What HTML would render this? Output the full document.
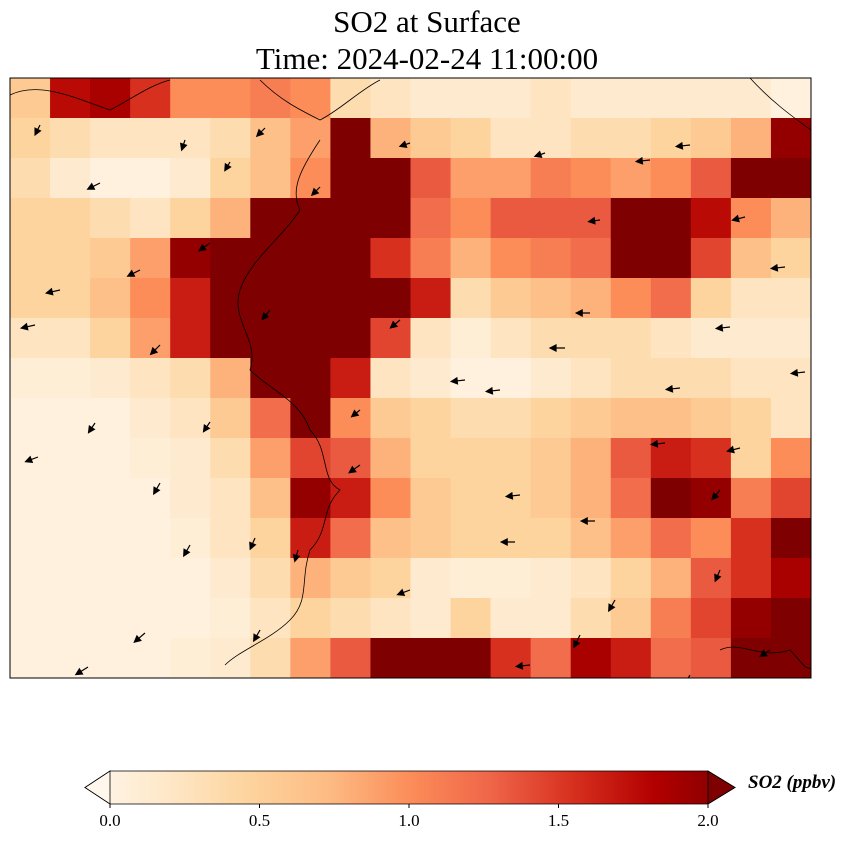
<!DOCTYPE html>
<html><head><meta charset="utf-8">
<style>
body{margin:0;background:#fff;width:854px;height:839px;overflow:hidden;font-family:"Liberation Serif",serif}
</style></head>
<body>
<svg id="fig" width="854" height="839" xmlns="http://www.w3.org/2000/svg">
<text x="427" y="32" font-size="31" text-anchor="middle" font-family="Liberation Serif,serif">SO2 at Surface</text>
<text x="427" y="69" font-size="31" text-anchor="middle" font-family="Liberation Serif,serif">Time: 2024-02-24 11:00:00</text>
<defs>
<clipPath id="mapclip"><rect x="10" y="78" width="801" height="600"/></clipPath>
<linearGradient id="cgrad" x1="0" x2="1" y1="0" y2="0">
<stop offset="0" stop-color="#fff7ec"/><stop offset="0.125" stop-color="#fee8c8"/><stop offset="0.25" stop-color="#fdd49e"/><stop offset="0.375" stop-color="#fdbb84"/><stop offset="0.5" stop-color="#fc8d59"/><stop offset="0.625" stop-color="#ef6548"/><stop offset="0.75" stop-color="#d7301f"/><stop offset="0.875" stop-color="#b30000"/><stop offset="1" stop-color="#7f0000"/>
</linearGradient>
</defs>
<g id="cells" clip-path="url(#mapclip)"></g>
<g id="coast" clip-path="url(#mapclip)" fill="none" stroke="#000" stroke-width="0.8">
<path d="M320,140 C300,170 290,190 300,210 C280,240 250,260 240,290 C230,320 260,340 250,370 C270,390 300,400 310,430 C330,450 320,480 340,490 C320,510 330,530 310,550 C300,580 310,600 290,620 C270,640 240,650 225,665"/>
<path d="M10,95 C40,80 80,100 110,110 C130,100 150,85 170,80"/>
<path d="M260,80 C280,100 300,110 320,120 C340,110 360,90 380,80"/>
<path d="M750,78 C770,100 790,115 811,130"/>
<path d="M720,650 C740,640 760,660 790,650 C800,660 805,670 811,668"/>
</g>
<g id="arrows" clip-path="url(#mapclip)"></g>
<rect x="10" y="78" width="801" height="600" fill="none" stroke="#000" stroke-width="1"/>
<g>
<polygon points="110,771 708,771 735,787.5 708,804 110,804 85,787.5" fill="url(#cgrad)" stroke="#000" stroke-width="0.8"/>
<polygon points="85,787.5 110,771 110,804" fill="#fff7ec" stroke="#000" stroke-width="0.8"/>
<polygon points="735,787.5 708,771 708,804" fill="#7f0000" stroke="#000" stroke-width="0.8"/>
</g>
<g id="cticks" font-size="17" text-anchor="middle"></g>
<text x="748" y="788" font-size="19" font-weight="bold" font-style="italic">SO2 (ppbv)</text>
</svg>
<script>
const gridCols = 20;
const gridRows = 15;
const so2Values = [
[0.6,1.7,1.8,1.5,1.0,1.0,1.1,1.0,0.4,0.3,0.2,0.2,0.2,0.3,0.2,0.2,0.2,0.2,0.2,0.1],
[0.5,0.4,0.3,0.3,0.3,0.4,0.7,0.9,2,0.8,0.6,0.5,0.3,0.3,0.4,0.4,0.5,0.6,0.8,1.9],
[0.4,0.2,0.1,0.1,0.2,0.5,0.7,1.0,2,2,1.3,0.9,0.9,1.1,1.0,0.9,1.0,1.3,2,2],
[0.5,0.5,0.4,0.3,0.5,0.8,2,2,2,2,1.2,1.0,1.3,1.3,1.3,2,2,1.7,1.0,0.8],
[0.5,0.5,0.6,0.9,1.9,2,2,2,2,1.5,1.1,0.8,1.0,1.1,1.2,2,2,1.4,0.7,0.5],
[0.5,0.5,0.7,1.0,1.6,2,2,2,2,2,1.6,0.4,0.6,0.7,0.8,1.0,1.2,0.5,0.3,0.3],
[0.3,0.3,0.5,0.9,1.6,2,2,2,2,1.4,0.3,0.15,0.3,0.4,0.4,0.4,0.3,0.2,0.2,0.2],
[0.15,0.15,0.2,0.3,0.4,0.8,2,2,1.6,0.3,0.2,0.1,0.1,0.2,0.3,0.4,0.4,0.4,0.3,0.3],
[0.1,0.1,0.1,0.2,0.3,0.6,1.2,2,1.0,0.6,0.5,0.4,0.4,0.5,0.6,0.7,0.7,0.6,0.5,0.3],
[0.1,0.1,0.1,0.15,0.2,0.4,0.9,1.4,1.3,0.8,0.5,0.5,0.5,0.6,0.8,1.3,1.6,1.5,0.5,1.0],
[0.1,0.1,0.1,0.1,0.2,0.3,0.7,1.9,1.6,1.0,0.6,0.5,0.5,0.6,0.8,1.2,2,1.9,1.1,1.4],
[0.1,0.1,0.1,0.1,0.15,0.3,0.5,1.6,1.2,0.7,0.6,0.5,0.5,0.5,0.7,0.9,1.2,1.0,1.5,2],
[0.1,0.1,0.1,0.1,0.1,0.2,0.4,0.8,0.6,0.5,0.2,0.15,0.15,0.2,0.3,0.5,0.8,1.3,1.5,1.8],
[0.1,0.1,0.1,0.1,0.1,0.15,0.3,0.5,0.4,0.3,0.2,0.5,0.2,0.2,0.4,0.6,1.1,1.4,1.9,2],
[0.1,0.1,0.1,0.1,0.15,0.2,0.4,0.9,1.3,2,2,2,1.5,1.2,1.8,1.6,1.2,1.3,2,2]
];
const colorbarTicks = [0.0, 0.5, 1.0, 1.5, 2.0];
const windX = [40,100,185,230,265,320,410,545,600,650,690,745,785,140,210,60,35,160,270,400,465,565,680,730,805,95,210,360,500,590,665,740,38,160,360,520,595,720,190,255,298,515,615,720,145,260,410,580,690,88,530,770];
const windY = [125,183,140,162,128,187,143,153,220,160,145,217,267,270,243,290,325,345,310,320,380,348,388,327,372,423,422,410,390,313,443,448,457,483,465,495,521,490,545,538,550,542,600,570,633,630,590,635,675,667,665,650];
const windU = [-0.3,-0.8,-0.2,-0.3,-0.5,-0.5,-0.6,-0.6,-0.7,-0.9,-0.9,-0.8,-0.9,-0.8,-0.7,-0.9,-0.9,-0.6,-0.5,-0.6,-0.9,-1,-0.9,-0.9,-0.9,-0.4,-0.4,-0.5,-0.9,-0.9,-0.9,-0.8,-0.8,-0.4,-0.7,-0.9,-0.9,-0.5,-0.4,-0.3,-0.2,-0.9,-0.4,-0.3,-0.7,-0.4,-0.8,-0.4,-0.4,-0.8,-0.9,-0.6];
const windV = [0.6,0.4,0.6,0.5,0.5,0.5,0.2,0.2,0.1,0.1,0.1,0.2,0.1,0.4,0.5,0.2,0.2,0.6,0.6,0.5,0.1,0,0.1,0.1,0.1,0.6,0.6,0.4,0.1,0,0.1,0.2,0.3,0.7,0.5,0.1,0,0.6,0.7,0.7,0.7,0,0.7,0.7,0.6,0.7,0.3,0.8,0.7,0.5,0.1,0.4];

const OrRd = ["#fff7ec","#fee8c8","#fdd49e","#fdbb84","#fc8d59","#ef6548","#d7301f","#b30000","#7f0000"];
function hex(c){return [1,3,5].map(i=>parseInt(c.substr(i,2),16));}
function cmap(v){
  let t=Math.max(0,Math.min(1,v/2))*(OrRd.length-1);
  let i=Math.min(OrRd.length-2,Math.floor(t)),f=t-i;
  let a=hex(OrRd[i]),b=hex(OrRd[i+1]);
  return "rgb("+a.map((x,k)=>Math.round(x+(b[k]-x)*f)).join(",")+")";
}
const X0=10,Y0=78,W=801,H=600;
function xCell(c){return X0+c*W/gridCols;}
function yCell(r){return Y0+r*H/gridRows;}
const NS="http://www.w3.org/2000/svg";
const cells=document.getElementById("cells");
so2Values.forEach((row,r)=>row.forEach((v,c)=>{
  const e=document.createElementNS(NS,"rect");
  e.setAttribute("x",xCell(c));e.setAttribute("y",yCell(r));
  e.setAttribute("width",W/gridCols+0.6);e.setAttribute("height",H/gridRows+0.6);
  e.setAttribute("fill",cmap(v));
  
  
  cells.appendChild(e);
}));
function cbX(v){return 110+(v/2)*598;}
const ct=document.getElementById("cticks");
colorbarTicks.forEach(v=>{
  const l=document.createElementNS(NS,"line");
  l.setAttribute("x1",cbX(v));l.setAttribute("x2",cbX(v));l.setAttribute("y1",804);l.setAttribute("y2",808);l.setAttribute("stroke","#000");
  
  
  ct.appendChild(l);
  const t=document.createElementNS(NS,"text");
  t.setAttribute("x",cbX(v));t.setAttribute("y",826);t.textContent=v.toFixed(1);
  
  
  ct.appendChild(t);
});
const ar=document.getElementById("arrows");
windX.forEach((x,i)=>{
  const u=windU[i],v=windV[i],L=12;
  const n=Math.hypot(u,v)||1, dx=u/n, dy=v/n;
  const x2=x+dx*L*n,y2=windY[i]+dy*L*n;
  const g=document.createElementNS(NS,"path");
  const px=-dy,py=dx;
  g.setAttribute("d",`M${x},${windY[i]}L${x2},${y2}M${x2+dx*3},${y2+dy*3}L${x2-dx*3+px*3},${y2-dy*3+py*3}L${x2-dx*3-px*3},${y2-dy*3-py*3}Z`);
  g.setAttribute("stroke","#000");g.setAttribute("stroke-width","1.2");g.setAttribute("fill","#000");
  
  
  ar.appendChild(g);
});
</script>
</body></html>
